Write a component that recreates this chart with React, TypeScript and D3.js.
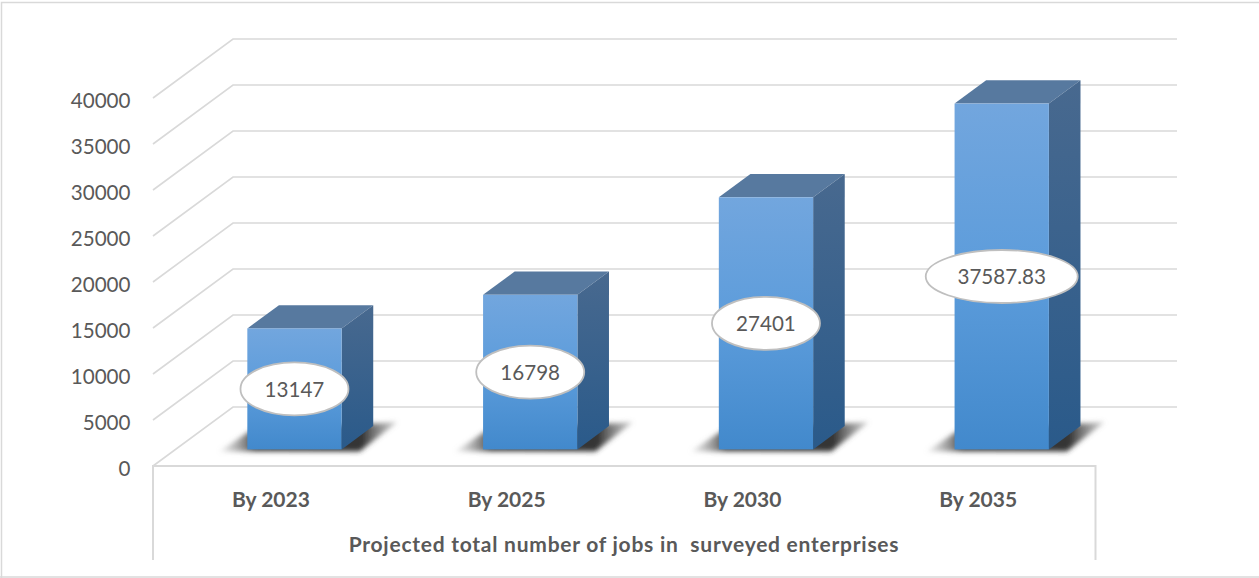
import React from "react";
import * as d3 from "d3";

const categories = ["By 2023", "By 2025", "By 2030", "By 2035"];
const values = [13147, 16798, 27401, 37587.83];
const valueLabels = ["13147", "16798", "27401", "37587.83"];
const ticks = [0, 5000, 10000, 15000, 20000, 25000, 30000, 35000, 40000];
const axisTitle = "Projected total number of jobs in  surveyed enterprises";

const W = 1259;
const H = 578;
const FONT = "Lato, Carlito, sans-serif";

// Oblique projection: depth runs up and to the right of the front plane.
const depthX = 80;
const depthY = 59;
const project = (x: number, y: number, t: number): [number, number] => [x + depthX * t, y - depthY * t];

const barDepthStart = 0.295;
const barDepthEnd = 0.69;

const y = d3.scaleLinear().domain([0, 40000]).range([466, 98]);
const x = d3.scaleBand<string>().domain(categories).range([153, 1096]).paddingInner(0.6).paddingOuter(0.3);
const line = d3.line();

export default function App() {
  return (
    <svg
      width={W}
      height={H}
      viewBox={`0 0 ${W} ${H}`}
      style={{ position: "fixed", left: 0, top: 0, display: "block", background: "#fff" }}
    >
      <defs>
        <linearGradient id="frontFace" x1="0" y1="0" x2="0" y2="1">
          <stop offset="0" stopColor="#72a6de" />
          <stop offset="0.5" stopColor="#5c9cdb" />
          <stop offset="1" stopColor="#4289cc" />
        </linearGradient>
        <linearGradient id="sideFace" x1="0" y1="0" x2="0" y2="1">
          <stop offset="0" stopColor="#48698f" />
          <stop offset="1" stopColor="#2a5a8a" />
        </linearGradient>
        <linearGradient id="floorShadow" x1="0" y1="0" x2="1" y2="0">
          <stop offset="0" stopColor="#aaa" stopOpacity="0.2" />
          <stop offset="0.2" stopColor="#444" />
          <stop offset="0.8" stopColor="#333" />
          <stop offset="1" stopColor="#888" stopOpacity="0.4" />
        </linearGradient>
        <filter id="soft" x="-20%" y="-50%" width="140%" height="200%">
          <feGaussianBlur stdDeviation="2.6" />
        </filter>
      </defs>

      {/* outer frame */}
      <path d="M1.5 578 V2.5 H1259 M0 577 H1259" fill="none" stroke="#d9d9d9" strokeWidth={1.5} />

      {/* back wall gridlines and their diagonals across the side wall */}
      {ticks.map((t) => {
        const front: [number, number] = [153, y(t)];
        const back = project(153, y(t), 1);
        return (
          <path
            key={t}
            d={line([front, back, [1177, back[1]]]) ?? ""}
            fill="none"
            stroke="#d9d9d9"
            strokeWidth={1.6}
          />
        );
      })}

      {/* category axis box */}
      <path d="M153 560 V466 H1095.5 V560" fill="none" stroke="#d9d9d9" strokeWidth={2} />

      {/* value axis */}
      <g fontFamily={FONT} fontSize={20.6} fill="#595959" textAnchor="end">
        {ticks.map((t) => (
          <text key={t} x={130.5} y={y(t) + 9.5}>
            {t}
          </text>
        ))}
      </g>

      {/* bars */}
      <g transform="translate(0,0.8)">
        {categories.map((c, i) => {
          const left = x(c) as number;
          const right = left + x.bandwidth();
          const base = y(0);
          const top = y(values[i]);
          const fbl = project(left, base, barDepthStart);
          const fbr = project(right, base, barDepthStart);
          const ftl = project(left, top, barDepthStart);
          const ftr = project(right, top, barDepthStart);
          const bbr = project(right, base, barDepthEnd);
          const btl = project(left, top, barDepthEnd);
          const btr = project(right, top, barDepthEnd);
          const shadow: [number, number][] = [
            [fbl[0] - 28, fbl[1] + 2],
            [fbl[0] + 2, fbl[1] - 18],
            [bbr[0] + 24, bbr[1] - 4],
            [fbr[0] + 18, fbr[1] + 2],
          ];
          return (
            <g key={c}>
              <path d={line(shadow) + "Z"} fill="url(#floorShadow)" filter="url(#soft)" />
              <path d={line([ftl, btl, btr, ftr]) + "Z"} fill="#57799f" />
              <path d={line([ftr, btr, bbr, fbr]) + "Z"} fill="url(#sideFace)" />
              <rect x={ftl[0]} y={ftl[1]} width={ftr[0] - ftl[0]} height={fbl[1] - ftl[1]} fill="url(#frontFace)" />
            </g>
          );
        })}
      </g>

      {/* value callouts, centred on each bar's front face */}
      {categories.map((c, i) => {
        const cx = (x(c) as number) + x.bandwidth() / 2 + depthX * barDepthStart;
        const cy = (y(0) + y(values[i])) / 2 - depthY * barDepthStart + 0.8;
        const rx = valueLabels[i].length > 5 ? 76 : 54;
        return (
          <g key={c}>
            <ellipse cx={cx} cy={cy} rx={rx} ry={26.5} fill="#fff" stroke="#bfbfbf" strokeWidth={1.8} />
            <text x={cx} y={cy + 8} textAnchor="middle" fontFamily={FONT} fontSize={20.6} fill="#595959">
              {valueLabels[i]}
            </text>
          </g>
        );
      })}

      {/* category labels and axis title */}
      <g fontFamily={FONT} fontWeight={700} fill="#595959" textAnchor="middle">
        {categories.map((c) => (
          <text key={c} x={(x(c) as number) + x.bandwidth() / 2} y={506.5} fontSize={21}>
            {c}
          </text>
        ))}
        <text x={624} y={552} fontSize={21} letterSpacing={0.75} xmlSpace="preserve">
          {axisTitle}
        </text>
      </g>
    </svg>
  );
}
